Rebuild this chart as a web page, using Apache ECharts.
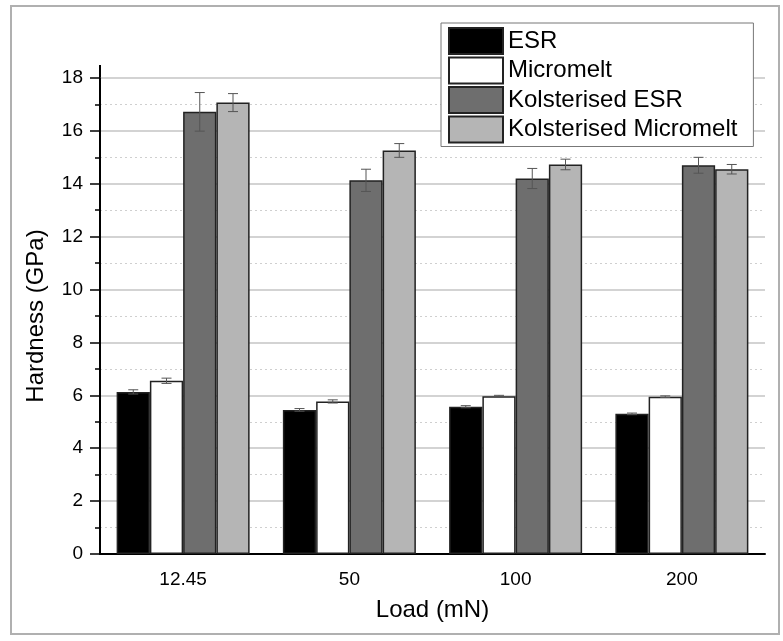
<!DOCTYPE html>
<html>
<head>
<meta charset="utf-8">
<script src="https://cdn.jsdelivr.net/npm/echarts@6/dist/echarts.min.js"></script>
<style>html,body{margin:0;padding:0;background:#fff}#chart{width:783px;height:641px}</style>
</head>
<body>
<div id="chart"></div>
<script>
var loads = ['12.45', '50', '100', '200'];
var seriesNames = ['ESR', 'Micromelt', 'Kolsterised ESR', 'Kolsterised Micromelt'];
var esr = [6.13, 5.45, 5.57, 5.30];
var micromelt = [6.55, 5.77, 5.97, 5.95];
var kolEsr = [16.72, 14.13, 14.20, 14.70];
var kolMicromelt = [17.07, 15.26, 14.73, 14.55];
var esrErr = [0.08, 0.05, 0.04, 0.03];
var micromeltErr = [0.10, 0.06, 0.03, 0.03];
var kolEsrErr = [0.73, 0.42, 0.38, 0.30];
var kolMicromeltErr = [0.34, 0.26, 0.20, 0.18];
var barColors = ['#000000', '#ffffff', '#6e6e6e', '#b5b5b5'];

var font = 'Liberation Sans';
var myChart = echarts.init(document.getElementById('chart'));

function barSeries(idx, values) {
    return {
        name: seriesNames[idx],
        type: 'bar',
        barWidth: '20%',
        barGap: '0%',
        data: values,
        itemStyle: {
            color: barColors[idx],
            borderColor: '#222',
            borderWidth: 1.5
        }
    };
}

// error bars drawn on top of each bar
function errorSeries(idx, values, errs) {
    return {
        name: seriesNames[idx] + ' error',
        type: 'custom',
        z: 10,
        data: values.map(function (v, i) { return [i, v - errs[i], v + errs[i]]; }),
        encode: { x: 0, y: [1, 2] },
        renderItem: function (params, api) {
            var band = api.size([1, 0])[0];
            var off = (idx - 1.5) * band * 0.2;
            var lo = api.coord([api.value(0), api.value(1)]);
            var hi = api.coord([api.value(0), api.value(2)]);
            var x = lo[0] + off, hw = 5;
            var st = { stroke: '#555', lineWidth: 1 };
            return {
                type: 'group',
                children: [
                    { type: 'line', shape: { x1: x, y1: hi[1], x2: x, y2: lo[1] }, style: st },
                    { type: 'line', shape: { x1: x - hw, y1: hi[1], x2: x + hw, y2: hi[1] }, style: st },
                    { type: 'line', shape: { x1: x - hw, y1: lo[1], x2: x + hw, y2: lo[1] }, style: st }
                ]
            };
        }
    };
}

option = {
    backgroundColor: '#fff',
    animation: false,
    textStyle: { fontFamily: font },
    grid: { left: 100, right: 18, top: 78, bottom: 87 },
    legend: {
        data: seriesNames,
        orient: 'vertical',
        left: 441,
        top: 23,
        itemWidth: 54,
        itemHeight: 26,
        itemGap: 1.5,
        padding: [4, 16, 3, 7],
        backgroundColor: '#fff',
        borderColor: '#777',
        borderWidth: 1,
        icon: 'rect',
        textStyle: { fontSize: 24, lineHeight: 26, color: '#000', fontFamily: font }
    },
    xAxis: [{
        type: 'category',
        data: loads,
        name: 'Load (mN)',
        nameLocation: 'middle',
        nameGap: 44,
        nameTextStyle: { fontSize: 24, color: '#000' },
        axisLine: { lineStyle: { color: '#000', width: 2 } },
        axisTick: { alignWithLabel: true, length: 10, lineStyle: { color: '#000', width: 1.5 } },
        axisLabel: { fontSize: 19, color: '#000', margin: 16 }
    }, {
        type: 'category',
        data: loads,
        position: 'bottom',
        axisLine: { show: false },
        axisTick: { length: 5, lineStyle: { color: '#000', width: 1.5 } },
        axisLabel: { show: false }
    }],
    yAxis: {
        type: 'value',
        min: 0,
        max: 18,
        interval: 2,
        name: 'Hardness (GPa)',
        nameLocation: 'middle',
        nameGap: 52,
        nameTextStyle: { fontSize: 24, color: '#000' },
        axisLine: { show: true, lineStyle: { color: '#000', width: 2 } },
        axisTick: { show: true, length: 10, lineStyle: { color: '#000', width: 1.5 } },
        minorTick: { show: true, splitNumber: 2, length: 5, lineStyle: { color: '#000', width: 1.5 } },
        axisLabel: { fontSize: 19, color: '#000', margin: 17 },
        splitLine: { show: true, lineStyle: { color: '#c4c4c4', width: 1.5 } },
        minorSplitLine: { show: true, lineStyle: { color: '#cfcfcf', width: 1, type: [2, 3] } }
    },
    graphic: [
        { type: 'rect', shape: { x: 11, y: 6, width: 768, height: 628 }, style: { fill: 'none', stroke: '#b0b0b0', lineWidth: 2 }, silent: true },
        { type: 'line', shape: { x1: 100, y1: 65, x2: 100, y2: 79 }, style: { stroke: '#000', lineWidth: 2 }, silent: true }
    ],
    series: [
        barSeries(0, esr),
        barSeries(1, micromelt),
        barSeries(2, kolEsr),
        barSeries(3, kolMicromelt),
        errorSeries(0, esr, esrErr),
        errorSeries(1, micromelt, micromeltErr),
        errorSeries(2, kolEsr, kolEsrErr),
        errorSeries(3, kolMicromelt, kolMicromeltErr)
    ]
};

myChart.setOption(option);
</script>
</body>
</html>
